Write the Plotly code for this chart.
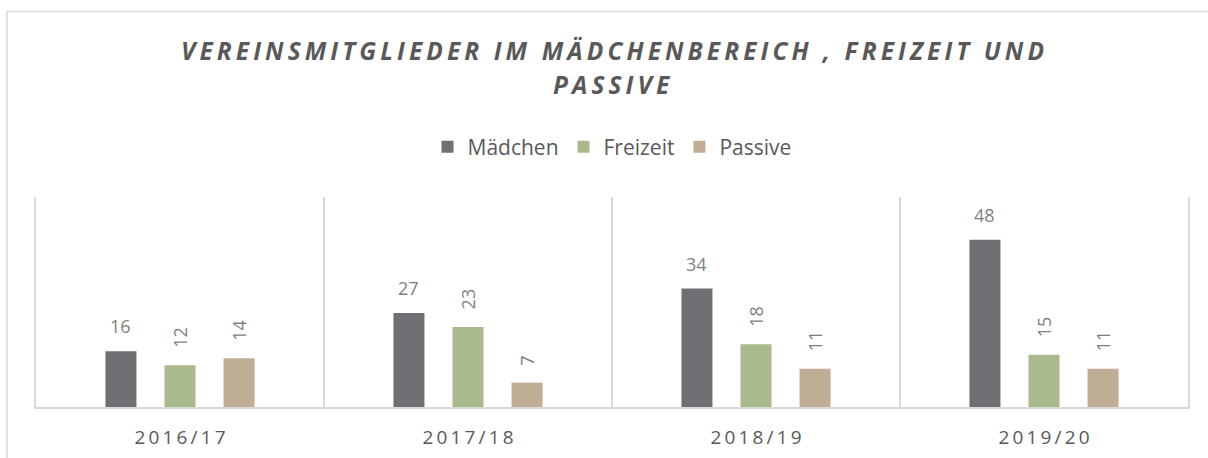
import plotly.graph_objects as go

# ---- data ----
categories = ["2016/17", "2017/18", "2018/19", "2019/20"]
maedchen = [16, 27, 34, 48]
freizeit = [12, 23, 18, 15]
passive = [14, 7, 11, 11]
series_names = ["Mädchen", "Freizeit", "Passive"]
title_lines = ["VEREINSMITGLIEDER IM MÄDCHENBEREICH , FREIZEIT UND", "PASSIVE"]

# ---- style ----
colors = ["#6f6f74", "#a9b98b", "#bfad96"]
label_angles = [0, -90, -90]
label_shift = [11, 15, 15]
FONT = "Open Sans"
TEXT_DARK = "#595959"
TEXT_LABEL = "#7f7f7f"
LINE = "#d9d9d9"
BARGAP = 0.385
BARGROUPGAP = 0.475
THIN = "\u2009"

W, H = 1208, 458
L, R, T, B = 36, 20, 197, 51
plot_w, plot_h = W - L - R, H - T - B


def spaced(s):
    return THIN.join(s)


def py(px_from_top):
    # page pixel (from top) -> paper y
    return (H - B - px_from_top) / plot_h


def px(px_from_left):
    return (px_from_left - L) / plot_w


fig = go.Figure()
all_series = [maedchen, freizeit, passive]
for name, vals, col in zip(series_names, all_series, colors):
    fig.add_trace(go.Bar(
        x=categories, y=vals, name=name,
        marker=dict(color=col, line=dict(width=0)),
        hoverinfo="x+y+name",
    ))

annotations = []
slot = (1 - BARGAP) / len(all_series)
for k, vals in enumerate(all_series):
    for i, v in enumerate(vals):
        annotations.append(dict(
            x=i + (k - (len(all_series) - 1) / 2) * slot, y=v,
            xref="x", yref="y", text=str(v), showarrow=False,
            textangle=label_angles[k], xanchor="center", yanchor="bottom",
            yshift=label_shift[k],
            font=dict(family=FONT, size=18, color=TEXT_LABEL),
        ))

title_y = [50, 85]
for line, yy in zip(title_lines, title_y):
    annotations.append(dict(
        x=0.5, y=py(yy), xref="paper", yref="paper",
        text="<b><i>" + spaced(line) + "</i></b>", showarrow=False,
        xanchor="center", yanchor="middle",
        font=dict(family=FONT, size=24.5, color=TEXT_DARK),
    ))

shapes = [
    dict(type="line", xref="paper", yref="paper",
         x0=px(7), x1=px(1230), y0=py(11.5), y1=py(11.5),
         line=dict(color=LINE, width=1.5)),
    dict(type="line", xref="paper", yref="paper",
         x0=px(7), x1=px(7), y0=py(11.5), y1=py(480),
         line=dict(color=LINE, width=1.5)),
]

fig.update_layout(
    width=W, height=H,
    margin=dict(l=L, r=R, t=T, b=B, pad=0, autoexpand=False),
    paper_bgcolor="white", plot_bgcolor="white",
    barmode="group", bargap=BARGAP, bargroupgap=BARGROUPGAP,
    showlegend=True,
    legend=dict(orientation="h", x=0.5, xanchor="center", y=py(147), yanchor="middle",
                font=dict(family=FONT, size=21, color=TEXT_DARK),
                itemwidth=30, tracegroupgap=0, bgcolor="rgba(0,0,0,0)"),
    annotations=annotations,
    shapes=shapes,
    xaxis=dict(
        type="category", tickvals=categories, ticktext=[spaced(c) for c in categories],
        tickson="boundaries", showgrid=True, gridcolor=LINE, gridwidth=1.5,
        showline=True, linecolor=LINE, linewidth=2, ticks="",
        ticklabelstandoff=12, automargin=False,
        tickfont=dict(family=FONT, size=19, color=TEXT_DARK),
        zeroline=False, fixedrange=True,
    ),
    yaxis=dict(
        range=[0, 60.3], showgrid=False, zeroline=False, showticklabels=False,
        showline=True, mirror=True, linecolor=LINE, linewidth=1.5, ticks="",
        automargin=False, fixedrange=True,
    ),
    font=dict(family=FONT, color=TEXT_DARK),
)

fig.write_html("out.html")
